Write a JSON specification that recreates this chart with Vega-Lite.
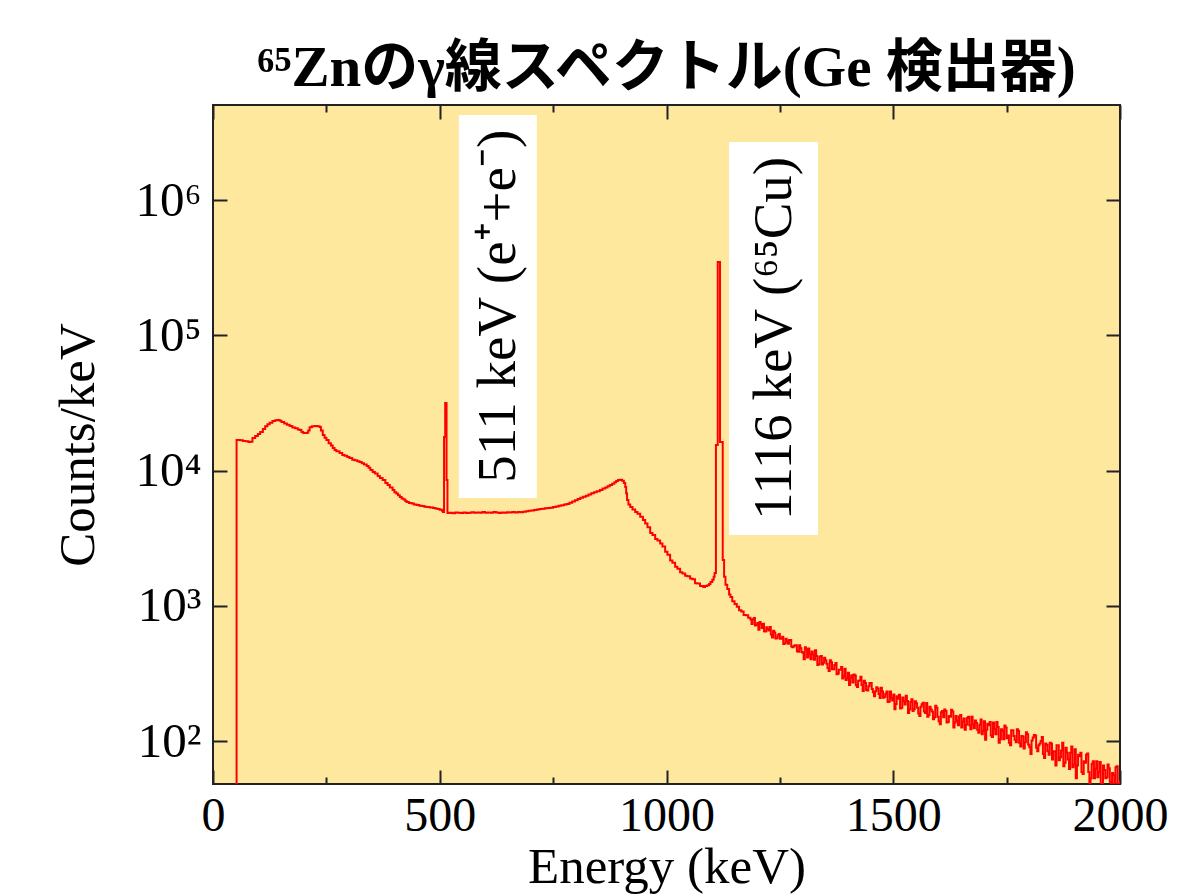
{
  "$schema": "https://vega.github.io/schema/vega-lite/v6.json",
  "width": 907,
  "height": 679,
  "autosize": {"type": "none"},
  "padding": {"left": 213, "top": 105, "right": 76, "bottom": 110},
  "background": "white",
  "config": {
    "view": {"fill": "#FDE89E", "stroke": "#222222", "strokeWidth": 2},
    "font": "Liberation Serif",
    "axis": {"grid": false, "tickColor": "#222222", "tickWidth": 2, "labelColor": "black", "titleColor": "black", "labelFont": "Liberation Serif", "titleFont": "Liberation Serif", "titleFontWeight": "normal"}
  },
  "title": {
    "text": "⁶⁵Znのγ線スペクトル(Ge 検出器)",
    "font": "Liberation Serif, Noto Sans CJK JP",
    "fontSize": 57,
    "fontWeight": "bold",
    "anchor": "middle",
    "offset": 6,
    "color": "black"
  },
  "datasets": {
    "spec": [
      {"E": 0, "c": 1}, {"E": 52, "c": 16800}, {"E": 60, "c": 16750}, {"E": 66, "c": 16500}, {"E": 72, "c": 16450},
      {"E": 78, "c": 16250}, {"E": 82, "c": 16300}, {"E": 87, "c": 17400}, {"E": 93, "c": 18000}, {"E": 99, "c": 18600},
      {"E": 104, "c": 19300}, {"E": 110, "c": 20300}, {"E": 115, "c": 21200}, {"E": 120, "c": 22000}, {"E": 125, "c": 22500},
      {"E": 131, "c": 23200}, {"E": 137, "c": 23500}, {"E": 142, "c": 23600}, {"E": 147, "c": 23300}, {"E": 151, "c": 22800},
      {"E": 157, "c": 22300}, {"E": 163, "c": 21800}, {"E": 169, "c": 21300}, {"E": 175, "c": 20800}, {"E": 181, "c": 20500},
      {"E": 187, "c": 20100}, {"E": 191, "c": 19900}, {"E": 195, "c": 19300}, {"E": 199, "c": 18900}, {"E": 203, "c": 18900},
      {"E": 207, "c": 19000}, {"E": 210, "c": 19800}, {"E": 213, "c": 20900}, {"E": 218, "c": 21200}, {"E": 224, "c": 21350},
      {"E": 230, "c": 21200}, {"E": 235, "c": 21000}, {"E": 238, "c": 19800}, {"E": 242, "c": 18300}, {"E": 246, "c": 17500},
      {"E": 250, "c": 16800}, {"E": 255, "c": 15900}, {"E": 260, "c": 15300}, {"E": 264, "c": 14700}, {"E": 268, "c": 14200},
      {"E": 272, "c": 13900}, {"E": 279, "c": 13450}, {"E": 285, "c": 13000}, {"E": 290, "c": 12850}, {"E": 296, "c": 12600},
      {"E": 301, "c": 12350}, {"E": 307, "c": 12000}, {"E": 312, "c": 11900}, {"E": 318, "c": 11700}, {"E": 323, "c": 11550},
      {"E": 328, "c": 11300}, {"E": 333, "c": 11100}, {"E": 339, "c": 10800}, {"E": 343, "c": 10500}, {"E": 347, "c": 10100},
      {"E": 352, "c": 9750}, {"E": 357, "c": 9500}, {"E": 363, "c": 9120}, {"E": 368, "c": 8800}, {"E": 374, "c": 8500},
      {"E": 380, "c": 8100}, {"E": 385, "c": 7800}, {"E": 390, "c": 7500}, {"E": 396, "c": 7180}, {"E": 400, "c": 6900},
      {"E": 404, "c": 6750}, {"E": 408, "c": 6550}, {"E": 412, "c": 6370}, {"E": 416, "c": 6200}, {"E": 420, "c": 6100},
      {"E": 424, "c": 5950}, {"E": 427, "c": 5850}, {"E": 432, "c": 5750}, {"E": 438, "c": 5700}, {"E": 443, "c": 5600},
      {"E": 449, "c": 5560}, {"E": 455, "c": 5480}, {"E": 460, "c": 5460}, {"E": 466, "c": 5400}, {"E": 471, "c": 5370},
      {"E": 478, "c": 5320}, {"E": 485, "c": 5280}, {"E": 490, "c": 5230}, {"E": 495, "c": 5190}, {"E": 500, "c": 5130},
      {"E": 505, "c": 5050}, {"E": 507, "c": 4930}, {"E": 509.5, "c": 17700}, {"E": 512, "c": 31600}, {"E": 515, "c": 8500},
      {"E": 517, "c": 4850}, {"E": 522, "c": 4880}, {"E": 528, "c": 4840}, {"E": 534, "c": 4900}, {"E": 540, "c": 4870},
      {"E": 546, "c": 4860}, {"E": 552, "c": 4900}, {"E": 558, "c": 4850}, {"E": 564, "c": 4880}, {"E": 570, "c": 4920},
      {"E": 576, "c": 4870}, {"E": 582, "c": 4900}, {"E": 588, "c": 4880}, {"E": 594, "c": 4930}, {"E": 600, "c": 4870},
      {"E": 606, "c": 4900}, {"E": 612, "c": 4880}, {"E": 618, "c": 4930}, {"E": 624, "c": 4890}, {"E": 630, "c": 4860},
      {"E": 636, "c": 4900}, {"E": 642, "c": 4880}, {"E": 648, "c": 4920}, {"E": 654, "c": 4890}, {"E": 660, "c": 4930},
      {"E": 666, "c": 4900}, {"E": 672, "c": 4940}, {"E": 678, "c": 4920}, {"E": 684, "c": 4960}, {"E": 690, "c": 4990},
      {"E": 696, "c": 5040}, {"E": 702, "c": 5060}, {"E": 708, "c": 5100}, {"E": 714, "c": 5150}, {"E": 720, "c": 5190},
      {"E": 726, "c": 5220}, {"E": 732, "c": 5260}, {"E": 738, "c": 5280}, {"E": 744, "c": 5310}, {"E": 750, "c": 5380},
      {"E": 756, "c": 5430}, {"E": 762, "c": 5480}, {"E": 768, "c": 5530}, {"E": 774, "c": 5600}, {"E": 780, "c": 5650},
      {"E": 786, "c": 5780}, {"E": 792, "c": 5900}, {"E": 798, "c": 6020}, {"E": 804, "c": 6150}, {"E": 810, "c": 6280},
      {"E": 816, "c": 6400}, {"E": 822, "c": 6520}, {"E": 828, "c": 6640}, {"E": 834, "c": 6780}, {"E": 840, "c": 6900},
      {"E": 846, "c": 7020}, {"E": 853, "c": 7180}, {"E": 859, "c": 7350}, {"E": 865, "c": 7500}, {"E": 870, "c": 7650},
      {"E": 875, "c": 7820}, {"E": 880, "c": 7980}, {"E": 885, "c": 8200}, {"E": 889, "c": 8380}, {"E": 893, "c": 8500},
      {"E": 897, "c": 8550}, {"E": 902, "c": 8400}, {"E": 906, "c": 8100}, {"E": 909, "c": 7540}, {"E": 911, "c": 6800},
      {"E": 913, "c": 6060}, {"E": 916, "c": 5600}, {"E": 920, "c": 5370}, {"E": 925, "c": 5150}, {"E": 931, "c": 4930},
      {"E": 936, "c": 4780}, {"E": 942, "c": 4550}, {"E": 948, "c": 4310}, {"E": 953, "c": 4050}, {"E": 958, "c": 3800},
      {"E": 964, "c": 3450}, {"E": 969, "c": 3330}, {"E": 975, "c": 3120}, {"E": 980, "c": 3040}, {"E": 986, "c": 2890},
      {"E": 991, "c": 2740}, {"E": 997, "c": 2510}, {"E": 1002, "c": 2380}, {"E": 1008, "c": 2160}, {"E": 1013, "c": 2080},
      {"E": 1019, "c": 1940}, {"E": 1024, "c": 1880}, {"E": 1030, "c": 1770}, {"E": 1035, "c": 1730}, {"E": 1041, "c": 1670},
      {"E": 1046, "c": 1650}, {"E": 1052, "c": 1590}, {"E": 1057, "c": 1570}, {"E": 1063, "c": 1470}, {"E": 1068, "c": 1460},
      {"E": 1074, "c": 1400}, {"E": 1081, "c": 1376}, {"E": 1085, "c": 1400}, {"E": 1090, "c": 1420}, {"E": 1094, "c": 1450},
      {"E": 1097, "c": 1500}, {"E": 1101, "c": 1560}, {"E": 1104, "c": 1640}, {"E": 1106, "c": 1746}, {"E": 1109, "c": 15450},
      {"E": 1113, "c": 348000}, {"E": 1118, "c": 16250}, {"E": 1124, "c": 2180}, {"E": 1127, "c": 1640}, {"E": 1130, "c": 1430},
      {"E": 1134, "c": 1330}, {"E": 1138, "c": 1210}, {"E": 1141, "c": 1160}, {"E": 1145, "c": 1080}, {"E": 1150, "c": 1030},
      {"E": 1155, "c": 985}, {"E": 1160, "c": 925}, {"E": 1165, "c": 905}, {"E": 1170, "c": 855}, {"E": 1175, "c": 850},
      {"E": 1180, "c": 815}, {"E": 1185, "c": 790},
      {"E": 1187.5, "c": 733}, {"E": 1190, "c": 794}, {"E": 1192.5, "c": 813}, {"E": 1195, "c": 715}, {"E": 1197.5, "c": 723}, {"E": 1200, "c": 746},
      {"E": 1202.5, "c": 666}, {"E": 1205, "c": 758}, {"E": 1207.5, "c": 736}, {"E": 1210, "c": 684}, {"E": 1212.5, "c": 736}, {"E": 1215, "c": 649},
      {"E": 1217.5, "c": 644}, {"E": 1220, "c": 695}, {"E": 1222.5, "c": 671}, {"E": 1225, "c": 656}, {"E": 1227.5, "c": 696}, {"E": 1230, "c": 614},
      {"E": 1232.5, "c": 583}, {"E": 1235, "c": 654}, {"E": 1237.5, "c": 633}, {"E": 1240, "c": 572}, {"E": 1242.5, "c": 574}, {"E": 1245, "c": 605},
      {"E": 1247.5, "c": 617}, {"E": 1250, "c": 570}, {"E": 1252.5, "c": 570}, {"E": 1255, "c": 589}, {"E": 1257.5, "c": 521}, {"E": 1260, "c": 529},
      {"E": 1262.5, "c": 571}, {"E": 1265, "c": 545}, {"E": 1267.5, "c": 524}, {"E": 1270, "c": 558}, {"E": 1272.5, "c": 559}, {"E": 1275, "c": 500},
      {"E": 1277.5, "c": 493}, {"E": 1280, "c": 501}, {"E": 1282.5, "c": 510}, {"E": 1285, "c": 510}, {"E": 1287.5, "c": 460}, {"E": 1290, "c": 457},
      {"E": 1292.5, "c": 510}, {"E": 1295, "c": 485}, {"E": 1297.5, "c": 455}, {"E": 1300, "c": 449}, {"E": 1302.5, "c": 403}, {"E": 1305, "c": 493},
      {"E": 1307.5, "c": 477}, {"E": 1310, "c": 414}, {"E": 1312.5, "c": 484}, {"E": 1315, "c": 438}, {"E": 1317.5, "c": 403}, {"E": 1320, "c": 459},
      {"E": 1322.5, "c": 436}, {"E": 1325, "c": 399}, {"E": 1327.5, "c": 468}, {"E": 1330, "c": 426}, {"E": 1332.5, "c": 365}, {"E": 1335, "c": 369},
      {"E": 1337.5, "c": 419}, {"E": 1340, "c": 426}, {"E": 1342.5, "c": 368}, {"E": 1345, "c": 379}, {"E": 1347.5, "c": 413}, {"E": 1350, "c": 395},
      {"E": 1352.5, "c": 373}, {"E": 1355, "c": 346}, {"E": 1357.5, "c": 329}, {"E": 1360, "c": 395}, {"E": 1362.5, "c": 382}, {"E": 1365, "c": 339},
      {"E": 1367.5, "c": 340}, {"E": 1370, "c": 364}, {"E": 1372.5, "c": 377}, {"E": 1375, "c": 312}, {"E": 1377.5, "c": 316}, {"E": 1380, "c": 337},
      {"E": 1382.5, "c": 336}, {"E": 1385, "c": 352}, {"E": 1387.5, "c": 290}, {"E": 1390, "c": 302}, {"E": 1392.5, "c": 342}, {"E": 1395, "c": 282},
      {"E": 1397.5, "c": 291}, {"E": 1400, "c": 319}, {"E": 1402.5, "c": 260}, {"E": 1405, "c": 295}, {"E": 1407.5, "c": 306}, {"E": 1410, "c": 271},
      {"E": 1412.5, "c": 310}, {"E": 1415, "c": 305}, {"E": 1417.5, "c": 258}, {"E": 1420, "c": 251}, {"E": 1422.5, "c": 279}, {"E": 1425, "c": 280},
      {"E": 1427.5, "c": 299}, {"E": 1430, "c": 260}, {"E": 1432.5, "c": 234}, {"E": 1435, "c": 279}, {"E": 1437.5, "c": 268}, {"E": 1440, "c": 238},
      {"E": 1442.5, "c": 236}, {"E": 1445, "c": 254}, {"E": 1447.5, "c": 268}, {"E": 1450, "c": 269}, {"E": 1452.5, "c": 242}, {"E": 1455, "c": 229},
      {"E": 1457.5, "c": 214}, {"E": 1460, "c": 233}, {"E": 1462.5, "c": 250}, {"E": 1465, "c": 244}, {"E": 1467.5, "c": 223}, {"E": 1470, "c": 208},
      {"E": 1472.5, "c": 248}, {"E": 1475, "c": 232}, {"E": 1477.5, "c": 209}, {"E": 1480, "c": 212}, {"E": 1482.5, "c": 224}, {"E": 1485, "c": 232},
      {"E": 1487.5, "c": 194}, {"E": 1490, "c": 196}, {"E": 1492.5, "c": 232}, {"E": 1495, "c": 208}, {"E": 1497.5, "c": 199}, {"E": 1500, "c": 221},
      {"E": 1502.5, "c": 172}, {"E": 1505, "c": 188}, {"E": 1507.5, "c": 214}, {"E": 1510, "c": 205}, {"E": 1512.5, "c": 220}, {"E": 1515, "c": 174},
      {"E": 1517.5, "c": 176}, {"E": 1520, "c": 210}, {"E": 1522.5, "c": 197}, {"E": 1525, "c": 186}, {"E": 1527.5, "c": 216}, {"E": 1530, "c": 198},
      {"E": 1532.5, "c": 161}, {"E": 1535, "c": 171}, {"E": 1537.5, "c": 194}, {"E": 1540, "c": 204}, {"E": 1542.5, "c": 167}, {"E": 1545, "c": 172},
      {"E": 1547.5, "c": 197}, {"E": 1550, "c": 190}, {"E": 1552.5, "c": 176}, {"E": 1555, "c": 160}, {"E": 1557.5, "c": 153}, {"E": 1560, "c": 179},
      {"E": 1562.5, "c": 187}, {"E": 1565, "c": 192}, {"E": 1567.5, "c": 165}, {"E": 1570, "c": 161}, {"E": 1572.5, "c": 191}, {"E": 1575, "c": 151},
      {"E": 1577.5, "c": 156}, {"E": 1580, "c": 179}, {"E": 1582.5, "c": 171}, {"E": 1585, "c": 165}, {"E": 1587.5, "c": 145}, {"E": 1590, "c": 150},
      {"E": 1592.5, "c": 182}, {"E": 1595, "c": 176}, {"E": 1597.5, "c": 151}, {"E": 1600, "c": 140}, {"E": 1602.5, "c": 133}, {"E": 1605, "c": 163},
      {"E": 1607.5, "c": 167}, {"E": 1610, "c": 150}, {"E": 1612.5, "c": 171}, {"E": 1615, "c": 167}, {"E": 1617.5, "c": 137}, {"E": 1620, "c": 138},
      {"E": 1622.5, "c": 153}, {"E": 1625, "c": 151}, {"E": 1627.5, "c": 170}, {"E": 1630, "c": 165}, {"E": 1632.5, "c": 126}, {"E": 1635, "c": 137},
      {"E": 1637.5, "c": 153}, {"E": 1640, "c": 141}, {"E": 1642.5, "c": 131}, {"E": 1645, "c": 152}, {"E": 1647.5, "c": 156}, {"E": 1650, "c": 126},
      {"E": 1652.5, "c": 139}, {"E": 1655, "c": 147}, {"E": 1657.5, "c": 121}, {"E": 1660, "c": 132}, {"E": 1662.5, "c": 148}, {"E": 1665, "c": 151},
      {"E": 1667.5, "c": 131}, {"E": 1670, "c": 122}, {"E": 1672.5, "c": 151}, {"E": 1675, "c": 133}, {"E": 1677.5, "c": 124}, {"E": 1680, "c": 142},
      {"E": 1682.5, "c": 136}, {"E": 1685, "c": 121}, {"E": 1687.5, "c": 115}, {"E": 1690, "c": 132}, {"E": 1692.5, "c": 144}, {"E": 1695, "c": 112},
      {"E": 1697.5, "c": 119}, {"E": 1700, "c": 140}, {"E": 1702.5, "c": 102}, {"E": 1705, "c": 121}, {"E": 1707.5, "c": 134}, {"E": 1710, "c": 131},
      {"E": 1712.5, "c": 138}, {"E": 1715, "c": 110}, {"E": 1717.5, "c": 107}, {"E": 1720, "c": 137}, {"E": 1722.5, "c": 122}, {"E": 1725, "c": 112},
      {"E": 1727.5, "c": 138}, {"E": 1730, "c": 127}, {"E": 1732.5, "c": 97}, {"E": 1735, "c": 103}, {"E": 1737.5, "c": 122}, {"E": 1740, "c": 119},
      {"E": 1742.5, "c": 103}, {"E": 1745, "c": 130}, {"E": 1747.5, "c": 126}, {"E": 1750, "c": 105}, {"E": 1752.5, "c": 110}, {"E": 1755, "c": 97},
      {"E": 1757.5, "c": 93}, {"E": 1760, "c": 120}, {"E": 1762.5, "c": 120}, {"E": 1765, "c": 109}, {"E": 1767.5, "c": 102}, {"E": 1770, "c": 98},
      {"E": 1772.5, "c": 122}, {"E": 1775, "c": 119}, {"E": 1777.5, "c": 97}, {"E": 1780, "c": 91}, {"E": 1782.5, "c": 109}, {"E": 1785, "c": 108},
      {"E": 1787.5, "c": 88}, {"E": 1790, "c": 98}, {"E": 1792.5, "c": 116}, {"E": 1795, "c": 112}, {"E": 1797.5, "c": 94}, {"E": 1800, "c": 90},
      {"E": 1802.5, "c": 80}, {"E": 1805, "c": 101}, {"E": 1807.5, "c": 106}, {"E": 1810, "c": 111}, {"E": 1812.5, "c": 110}, {"E": 1815, "c": 89},
      {"E": 1817.5, "c": 84}, {"E": 1820, "c": 93}, {"E": 1822.5, "c": 96}, {"E": 1825, "c": 100}, {"E": 1827.5, "c": 107}, {"E": 1830, "c": 80},
      {"E": 1832.5, "c": 75}, {"E": 1835, "c": 96}, {"E": 1837.5, "c": 94}, {"E": 1840, "c": 84}, {"E": 1842.5, "c": 79}, {"E": 1845, "c": 97},
      {"E": 1847.5, "c": 96}, {"E": 1850, "c": 73}, {"E": 1852.5, "c": 84}, {"E": 1855, "c": 84}, {"E": 1857.5, "c": 66}, {"E": 1860, "c": 93},
      {"E": 1862.5, "c": 93}, {"E": 1865, "c": 72}, {"E": 1867.5, "c": 76}, {"E": 1870, "c": 85}, {"E": 1872.5, "c": 97}, {"E": 1875, "c": 65},
      {"E": 1877.5, "c": 69}, {"E": 1880, "c": 89}, {"E": 1882.5, "c": 82}, {"E": 1885, "c": 73}, {"E": 1887.5, "c": 62}, {"E": 1890, "c": 82},
      {"E": 1892.5, "c": 91}, {"E": 1895, "c": 64}, {"E": 1897.5, "c": 67}, {"E": 1900, "c": 87}, {"E": 1902.5, "c": 53}, {"E": 1905, "c": 66},
      {"E": 1907.5, "c": 79}, {"E": 1910, "c": 77}, {"E": 1912.5, "c": 82}, {"E": 1915, "c": 59}, {"E": 1917.5, "c": 57}, {"E": 1920, "c": 71},
      {"E": 1922.5, "c": 69}, {"E": 1925, "c": 79}, {"E": 1927.5, "c": 81}, {"E": 1930, "c": 59}, {"E": 1932.5, "c": 49}, {"E": 1935, "c": 53},
      {"E": 1937.5, "c": 68}, {"E": 1940, "c": 71}, {"E": 1942.5, "c": 53}, {"E": 1945, "c": 62}, {"E": 1947.5, "c": 71}, {"E": 1950, "c": 54},
      {"E": 1952.5, "c": 59}, {"E": 1955, "c": 70}, {"E": 1957.5, "c": 46}, {"E": 1960, "c": 48}, {"E": 1962.5, "c": 66}, {"E": 1965, "c": 61},
      {"E": 1967.5, "c": 53}, {"E": 1970, "c": 54}, {"E": 1972.5, "c": 67}, {"E": 1975, "c": 63}, {"E": 1977.5, "c": 50}, {"E": 1980, "c": 48},
      {"E": 1982.5, "c": 58}, {"E": 1985, "c": 56}, {"E": 1987.5, "c": 44}, {"E": 1990, "c": 64}, {"E": 1992.5, "c": 65}, {"E": 1995, "c": 47},
      {"E": 1997.5, "c": 48}, {"E": 2000, "c": 51}
    ],
    "boxes": [
      {"x1": 542, "x2": 714, "y1": 6270, "y2": 4250000},
      {"x1": 1138, "x2": 1334, "y1": 3335, "y2": 2690000}
    ],
    "labelA": [{"E": 628, "c": 164000, "t": "511 keV (e⁺+e⁻)"}],
    "labelB": [{"E": 1236, "c": 94700, "t": "1116 keV (⁶⁵Cu)"}]
  },
  "layer": [
    {
      "data": {"name": "boxes"},
      "mark": {"type": "rect", "color": "white", "clip": true},
      "encoding": {
        "x": {"field": "x1", "type": "quantitative", "scale": {"domain": [0, 2000], "nice": false, "zero": false},
              "axis": {"orient": "top", "values": [0, 500, 1000, 1500, 2000], "tickSize": -14, "labels": false, "domain": false, "title": null}},
        "x2": {"field": "x2"},
        "y": {"field": "y1", "type": "quantitative", "scale": {"type": "log", "domain": [48.1, 5040000], "nice": false},
              "axis": {"orient": "right", "values": [100, 1000, 10000, 100000, 1000000], "tickSize": -14, "labels": false, "domain": false, "title": null}},
        "y2": {"field": "y2"}
      }
    },
    {
      "data": {"name": "spec"},
      "mark": {"type": "line", "color": "#FF0000", "strokeWidth": 2, "interpolate": "step-after", "clip": true},
      "encoding": {
        "x": {"field": "E", "type": "quantitative", "scale": {"domain": [0, 2000], "nice": false, "zero": false},
              "axis": {"orient": "bottom", "values": [0, 500, 1000, 1500, 2000], "format": "d", "tickSize": -14, "domain": false,
                       "labelFontSize": 48, "labelPadding": 22, "labelFlush": false, "labelOverlap": false,
                       "title": "Energy (keV)", "titleFontSize": 51, "titlePadding": 2}},
        "y": {"field": "c", "type": "quantitative", "scale": {"type": "log", "domain": [48.1, 5040000], "nice": false},
              "axis": {"orient": "left", "values": [100, 1000, 10000, 100000, 1000000], "tickSize": -14, "domain": false,
                       "labelFontSize": 49, "labelPadding": 26,
                       "labelExpr": "datum.value == 100 ? '10²' : datum.value == 1000 ? '10³' : datum.value == 10000 ? '10⁴' : datum.value == 100000 ? '10⁵' : '10⁶'",
                       "title": "Counts/keV", "titleFontSize": 51, "titlePadding": 30}}
      }
    },
    {
      "data": {"name": "labelA"},
      "mark": {"type": "text", "angle": 270, "align": "center", "baseline": "middle", "fontSize": 55, "font": "Liberation Serif", "color": "black"},
      "encoding": {
        "x": {"field": "E", "type": "quantitative", "scale": {"domain": [0, 2000], "nice": false, "zero": false},
              "axis": {"orient": "bottom", "values": [250, 750, 1250, 1750], "tickSize": -7, "labels": false, "domain": false, "title": null}},
        "y": {"field": "c", "type": "quantitative", "scale": {"type": "log", "domain": [48.1, 5040000], "nice": false}, "axis": null},
        "text": {"field": "t"}
      }
    },
    {
      "data": {"name": "labelB"},
      "mark": {"type": "text", "angle": 270, "align": "center", "baseline": "middle", "fontSize": 55, "font": "Liberation Serif", "color": "black"},
      "encoding": {
        "x": {"field": "E", "type": "quantitative", "scale": {"domain": [0, 2000], "nice": false, "zero": false},
              "axis": {"orient": "top", "values": [250, 750, 1250, 1750], "tickSize": -7, "labels": false, "domain": false, "title": null}},
        "y": {"field": "c", "type": "quantitative", "scale": {"type": "log", "domain": [48.1, 5040000], "nice": false}, "axis": null},
        "text": {"field": "t"}
      }
    }
  ],
  "resolve": {"axis": {"x": "independent", "y": "independent"}}
}
